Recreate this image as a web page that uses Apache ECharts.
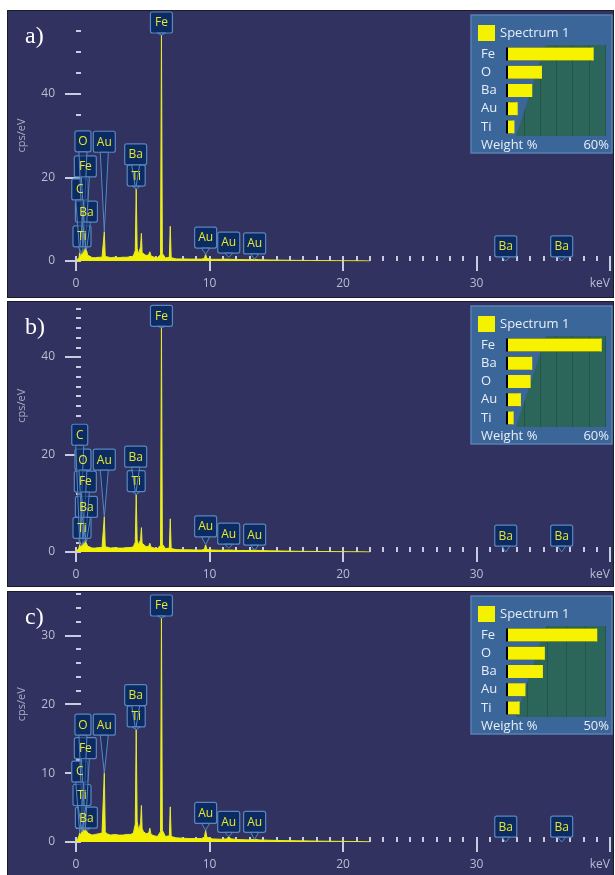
<!DOCTYPE html>
<html>
<head>
<meta charset="utf-8">
<script src="https://cdn.jsdelivr.net/npm/echarts@6.0.0/dist/echarts.min.js"></script>
<style>
  html, body { margin:0; padding:0; background:#fff; width:615px; height:875px; overflow:hidden; }
  .panel { position:absolute; left:7px; width:605px; border:1px solid #1c1c28; overflow:hidden; }
  .chart { position:absolute; left:0; top:-50px; width:605px; }
</style>
</head>
<body>
<div class="panel" style="top:10px;height:286px;"><div class="chart" id="panelA" style="height:336px;"></div></div>
<div class="panel" style="top:301px;height:284px;"><div class="chart" id="panelB" style="height:334px;"></div></div>
<div class="panel" style="top:591px;height:283px;"><div class="chart" id="panelC" style="height:333px;"></div></div>
<script>
// energy of the spectrum points (keV)
var energy = [0, 0.12, 0.22, 0.28, 0.34, 0.45, 0.52, 0.6, 0.7, 0.78,
  0.88, 1.0, 1.2, 1.45, 1.7, 1.95, 2.05, 2.12, 2.19, 2.3,
  2.6, 2.9, 3.2, 3.5, 3.8, 4.1, 4.3, 4.44, 4.51, 4.58,
  4.7, 4.78, 4.84, 4.9, 4.95, 5.05, 5.25, 5.45, 5.53, 5.62,
  5.85, 6.1, 6.33, 6.4, 6.47, 6.7, 6.99, 7.06, 7.13, 7.5,
  8.0, 8.5, 9.0, 9.4, 9.62, 9.71, 9.8, 10.2, 10.8, 11.3,
  11.44, 11.6, 12.2, 13.0, 13.38, 13.7, 14.5, 15.5, 16.5, 17.5,
  18.5, 19.5, 20.5, 21.5, 22.0];

// cps/eV of each spectrum
var cpsA = [0, 0.3, 0.8, 2.0, 1.0, 1.8, 3.0, 1.8, 3.4, 2.6,
  1.4, 1.1, 0.8, 0.8, 0.9, 0.9, 1.1, 7.0, 1.1, 0.9,
  0.8, 0.9, 0.8, 0.9, 0.9, 1.0, 1.2, 2.5, 17.2, 3.0,
  1.6, 1.6, 3.5, 6.6, 2.0, 1.6, 1.3, 1.5, 2.2, 1.2,
  0.9, 0.8, 1.5, 54, 1.8, 0.7, 0.9, 8.3, 0.8, 0.5,
  0.5, 0.45, 0.45, 0.45, 0.6, 1.6, 0.6, 0.4, 0.4, 0.45,
  0.9, 0.4, 0.35, 0.3, 0.4, 0.3, 0.25, 0.2, 0.15, 0.12,
  0.1, 0.08, 0.05, 0.03, 0];
var cpsB = [0, 0.3, 0.8, 1.5, 0.9, 1.4, 2.0, 1.3, 2.2, 2.0,
  1.2, 1.0, 0.8, 0.8, 0.9, 0.9, 1.1, 7.2, 1.1, 0.9,
  0.8, 0.9, 0.8, 0.8, 0.9, 0.9, 1.1, 2.0, 11.8, 2.4,
  1.4, 1.4, 2.6, 5.0, 1.8, 1.4, 1.1, 1.2, 1.8, 1.0,
  0.8, 0.7, 1.4, 46, 1.6, 0.7, 0.8, 6.8, 0.7, 0.5,
  0.45, 0.45, 0.4, 0.4, 0.55, 1.5, 0.55, 0.4, 0.35, 0.4,
  0.8, 0.4, 0.3, 0.3, 0.4, 0.3, 0.25, 0.2, 0.15, 0.12,
  0.1, 0.08, 0.05, 0.03, 0];
var cpsC = [0, 0.4, 0.9, 1.3, 1.0, 1.5, 1.8, 1.3, 1.9, 1.7,
  1.3, 1.2, 1.0, 1.1, 1.2, 1.3, 1.5, 10.0, 1.5, 1.2,
  1.0, 1.1, 1.0, 1.0, 1.1, 1.1, 1.3, 2.6, 16.3, 3.0,
  1.6, 1.5, 2.8, 5.3, 2.0, 1.5, 1.2, 1.3, 2.0, 1.1,
  0.9, 0.8, 1.5, 32.5, 1.7, 0.8, 0.9, 5.1, 0.8, 0.6,
  0.55, 0.5, 0.5, 0.5, 0.7, 1.7, 0.7, 0.45, 0.4, 0.45,
  0.8, 0.45, 0.35, 0.3, 0.4, 0.3, 0.25, 0.2, 0.18, 0.15,
  0.12, 0.1, 0.08, 0.05, 0.03];

// peak tags: element, line energy (keV), peak height (cps/eV)
var tagNamesA = ['O', 'Au', 'Fe', 'C', 'Ba', 'Ti', 'Ba', 'Ti', 'Fe', 'Au', 'Au', 'Au', 'Ba', 'Ba'];
var tagEnergyA = [0.52, 2.12, 0.70, 0.28, 0.78, 0.45, 4.47, 4.51, 6.40, 9.71, 11.44, 13.38, 32.19, 36.38];
var tagPeakA = [3.0, 7.0, 3.4, 2.0, 2.6, 1.8, 17.2, 17.2, 54, 1.6, 0.9, 0.4, 0, 0];

var tagNamesB = ['C', 'O', 'Au', 'Fe', 'Ba', 'Ti', 'Ba', 'Ti', 'Fe', 'Au', 'Au', 'Au', 'Ba', 'Ba'];
var tagEnergyB = [0.28, 0.52, 2.12, 0.70, 0.78, 0.45, 4.47, 4.51, 6.40, 9.71, 11.44, 13.38, 32.19, 36.38];
var tagPeakB = [1.5, 2.0, 7.2, 2.2, 2.0, 1.4, 11.8, 11.8, 46, 1.5, 0.8, 0.4, 0, 0];

var tagNamesC = ['O', 'Au', 'Fe', 'C', 'Ti', 'Ba', 'Ba', 'Ti', 'Fe', 'Au', 'Au', 'Au', 'Ba', 'Ba'];
var tagEnergyC = [0.52, 2.12, 0.70, 0.28, 0.45, 0.78, 4.47, 4.51, 6.40, 9.71, 11.44, 13.38, 32.19, 36.38];
var tagPeakC = [1.8, 10.0, 1.9, 1.3, 1.5, 1.7, 16.3, 16.3, 32.5, 1.7, 0.8, 0.4, 0, 0];

// inset: weight % per element
var elementsA = ['Fe', 'O', 'Ba', 'Au', 'Ti'];
var weightA = [53, 21, 15, 6, 4];
var elementsB = ['Fe', 'Ba', 'O', 'Au', 'Ti'];
var weightB = [58, 15, 14, 8, 3.5];
var elementsC = ['Fe', 'O', 'Ba', 'Au', 'Ti'];
var weightC = [46, 19, 18, 9, 6];

// layout only: height (cps/eV) where the bottom of each tag box sits
var tagLevelA = [26.1, 26, 20.1, 14.6, 9.3, 3.4, 23, 17.9, 54.5, 3.1, 1.9, 1.7, 1.0, 1.0];
var tagLevelB = [21.9, 16.8, 16.8, 12.3, 7.1, 2.8, 17.4, 12.4, 46.3, 3.1, 1.6, 1.4, 1.2, 1.2];
var tagLevelC = [15.5, 15.5, 12.1, 8.7, 5.3, 2.0, 19.8, 16.7, 32.8, 2.7, 1.4, 1.4, 0.7, 0.7];

var FONT = '"Open Sans", "DejaVu Sans", sans-serif';
var TICK = '#c8cce0';
var LABEL = '#b9bdd2';
var SHIFT = 50; // chart canvas starts 50px above the visible panel

function tagRenderer(names) {
    return function (params, api) {
        var name = names[params.dataIndex];
        var base = api.coord([api.value(0), api.value(1)]);
        var tip = api.coord([api.value(0), api.value(2)]);
        var w = name.length === 1 ? 16 : (name === 'Ti' ? 18 : 22);
        var h = 21;
        var children = [{
            type: 'rect', z2: 0,
            shape: { x: base[0] - w / 2, y: base[1] - h, width: w, height: h, r: 2 },
            style: { fill: '#0d2b63', stroke: '#5b86bd', lineWidth: 1.2 }
        }];
        if (tip[1] > base[1]) {
            children.push({
                type: 'polygon', z2: 1,
                shape: { points: [[base[0] - 4, base[1]], [base[0] + 4, base[1]], [tip[0], tip[1]]] },
                style: { fill: 'rgba(13,43,99,0.55)', stroke: '#5b86bd', lineWidth: 1 }
            });
        }
        children.push({
            type: 'text', z2: 2,
            style: { text: name, x: base[0], y: base[1] - h / 2 + 0.5, textAlign: 'center', textVerticalAlign: 'middle',
                fill: '#e8e62e', font: '12px ' + FONT }
        });
        return { type: 'group', children: children };
    };
}

function makeOption(p) {
    var spectrum = energy.map(function (e, i) { return [e, p.cps[i]]; });
    var tags = p.tagEnergy.map(function (e, i) { return [e, p.tagLevel[i], p.tagPeak[i]]; });
    return {
        backgroundColor: '#323261',
        animation: false,
        title: {
            text: p.letter, left: 12, top: SHIFT + 9,
            textStyle: { color: '#fff', fontFamily: '"Liberation Serif", serif', fontSize: 24, fontWeight: 'normal' }
        },
        grid: [
            { left: 66, right: 3, top: SHIFT + p.gridTop, height: p.gridHeight },
            { left: 500, right: 8, top: SHIFT + 34, height: 91, show: true, backgroundColor: '#2c6559', borderWidth: 0, z: 1 }
        ],
        xAxis: [
            {
                gridIndex: 0, type: 'value', min: 0, max: 40, interval: 10, offset: 3,
                axisLine: { show: false },
                axisTick: { length: 10, lineStyle: { color: TICK, width: 2 } },
                axisLabel: {
                    margin: 14, color: LABEL, fontSize: 12, fontFamily: FONT, alignMaxLabel: 'right',
                    formatter: function (v) { return v === 40 ? 'keV' : v; }
                },
                splitLine: { show: false }
            },
            {
                gridIndex: 0, type: 'value', min: 0, max: 40, interval: 1, offset: 3,
                axisLine: { show: false },
                axisTick: { length: 5, lineStyle: { color: TICK, width: 2 } },
                axisLabel: { show: false },
                splitLine: { show: false }
            },
            {
                gridIndex: 1, type: 'value', min: 0, max: p.weightMax, interval: 10, z: 2,
                axisLine: { show: false }, axisTick: { show: false }, axisLabel: { show: false },
                splitLine: { show: true, lineStyle: { color: '#24554b', width: 1 } }
            }
        ],
        yAxis: [
            {
                gridIndex: 0, type: 'value', min: 0, max: p.yMax, interval: p.yMajor, offset: 6,
                name: 'cps/eV', nameLocation: 'middle', nameGap: 43,
                nameTextStyle: { color: '#a9aec6', fontSize: 11, fontFamily: FONT },
                axisLine: { show: false },
                axisTick: { length: 11, lineStyle: { color: TICK, width: 2 } },
                axisLabel: {
                    margin: 15, color: LABEL, fontSize: 12, fontFamily: FONT,
                    formatter: function (v) { return v <= p.labelMax ? v : ''; }
                },
                splitLine: { show: false }
            },
            {
                gridIndex: 0, type: 'value', min: 0, max: p.yMax, interval: p.yMinor, offset: 6,
                axisLine: { show: false },
                axisTick: { length: 5, lineStyle: { color: TICK, width: 2 } },
                axisLabel: { show: false },
                splitLine: { show: false }
            },
            {
                gridIndex: 1, type: 'category', data: p.elements, inverse: true,
                axisLine: { show: false }, axisTick: { show: false },
                axisLabel: { align: 'left', margin: 27, color: '#e8eef8', fontSize: 13, fontFamily: FONT }
            }
        ],
        graphic: [
            { type: 'rect', z: 0, shape: { x: 463, y: SHIFT + 4, width: 141, height: 138 },
              style: { fill: '#3b6699', stroke: '#5a80b2', lineWidth: 1.5 } },
            { type: 'polygon', z: 3,
              shape: { points: [[500, SHIFT + 34], [538, SHIFT + 34], [508, SHIFT + 125], [500, SHIFT + 125]] },
              style: { fill: '#3b6699' } },
            { type: 'rect', z: 5, shape: { x: 470, y: SHIFT + 14, width: 17, height: 16 }, style: { fill: '#f5f200' } },
            { type: 'text', z: 5, x: 492, y: SHIFT + 22,
              style: { text: 'Spectrum 1', fill: '#e8eef8', font: '13px ' + FONT, textVerticalAlign: 'middle' } },
            { type: 'text', z: 5, x: 473, y: SHIFT + 134,
              style: { text: 'Weight %', fill: '#e8eef8', font: '13px ' + FONT, textVerticalAlign: 'middle' } },
            { type: 'text', z: 5, x: 601, y: SHIFT + 134,
              style: { text: p.weightMax + '%', fill: '#e8eef8', font: '13px ' + FONT, textAlign: 'right', textVerticalAlign: 'middle' } }
        ],
        series: [
            {
                name: 'Spectrum 1', type: 'line', xAxisIndex: 0, yAxisIndex: 0, z: 2,
                data: spectrum, showSymbol: false, symbol: 'none',
                lineStyle: { color: '#e6ec2c', width: 1 },
                areaStyle: { color: '#f3f000', opacity: 1 }
            },
            {
                name: 'tags', type: 'custom', xAxisIndex: 0, yAxisIndex: 0, z: 5, clip: false,
                renderItem: tagRenderer(p.tagNames), data: tags, silent: true
            },
            {
                name: 'Weight %', type: 'bar', xAxisIndex: 2, yAxisIndex: 2, z: 4,
                data: p.weights, barWidth: 13,
                itemStyle: { color: '#f7f200', shadowColor: '#000', shadowOffsetX: -2, shadowBlur: 0 }
            }
        ]
    };
}

var panels = [
    { id: 'panelA', letter: 'a)', cps: cpsA, tagNames: tagNamesA, tagEnergy: tagEnergyA, tagPeak: tagPeakA,
      tagLevel: tagLevelA, elements: elementsA, weights: weightA, weightMax: 60,
      yMax: 60, yMajor: 20, yMinor: 5, labelMax: 40, gridTop: -1, gridHeight: 251 },
    { id: 'panelB', letter: 'b)', cps: cpsB, tagNames: tagNamesB, tagEnergy: tagEnergyB, tagPeak: tagPeakB,
      tagLevel: tagLevelB, elements: elementsB, weights: weightB, weightMax: 60,
      yMax: 60, yMajor: 20, yMinor: 2, labelMax: 40, gridTop: -42.5, gridHeight: 292.5 },
    { id: 'panelC', letter: 'c)', cps: cpsC, tagNames: tagNamesC, tagEnergy: tagEnergyC, tagPeak: tagPeakC,
      tagLevel: tagLevelC, elements: elementsC, weights: weightC, weightMax: 50,
      yMax: 40, yMajor: 10, yMinor: 2, labelMax: 30, gridTop: -25.6, gridHeight: 275.6 }
];

panels.forEach(function (p) {
    var chart = echarts.init(document.getElementById(p.id), null, { renderer: 'canvas' });
    chart.setOption(makeOption(p));
});
</script>
</body>
</html>
